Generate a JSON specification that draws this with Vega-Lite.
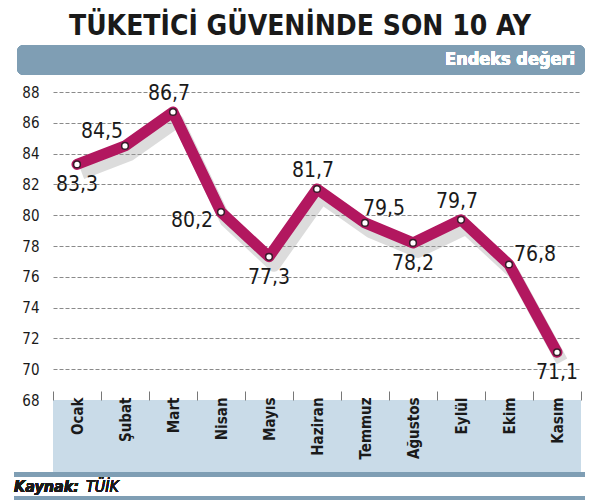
{
  "$schema": "https://vega.github.io/schema/vega-lite/v6.json",
  "width": 528,
  "height": 308,
  "autosize": "none",
  "padding": {"left": 53, "top": 92, "right": 10, "bottom": 104},
  "background": "white",
  "title": {
    "text": "TÜKETİCİ GÜVENİNDE SON 10 AY",
    "font": "Liberation Sans Narrow, DejaVu Sans Condensed, sans-serif",
    "fontSize": 28,
    "fontWeight": "bold",
    "color": "#1a1a1a",
    "anchor": "middle",
    "dx": -17,
    "offset": 4
  },
  "config": {
    "view": {"stroke": null},
    "font": "Liberation Sans Narrow, DejaVu Sans Condensed, sans-serif"
  },
  "data": {
    "values": [
      {"ay": "Ocak", "deger": 83.3, "etiket": "83,3"},
      {"ay": "Şubat", "deger": 84.5, "etiket": "84,5"},
      {"ay": "Mart", "deger": 86.7, "etiket": "86,7"},
      {"ay": "Nisan", "deger": 80.2, "etiket": "80,2"},
      {"ay": "Mayıs", "deger": 77.3, "etiket": "77,3"},
      {"ay": "Haziran", "deger": 81.7, "etiket": "81,7"},
      {"ay": "Temmuz", "deger": 79.5, "etiket": "79,5"},
      {"ay": "Ağustos", "deger": 78.2, "etiket": "78,2"},
      {"ay": "Eylül", "deger": 79.7, "etiket": "79,7"},
      {"ay": "Ekim", "deger": 76.8, "etiket": "76,8"},
      {"ay": "Kasım", "deger": 71.1, "etiket": "71,1"}
    ]
  },
  "encoding": {
    "x": {
      "field": "ay",
      "type": "nominal",
      "sort": null,
      "title": null,
      "scale": {"paddingInner": 0, "paddingOuter": 0},
      "axis": {
        "labelAngle": -90,
        "labelAlign": "right",
        "labelBaseline": "middle",
        "labelFontSize": 15,
        "labelFontWeight": "bold",
        "labelColor": "#1a1a1a",
        "labelPadding": 6,
        "domain": false,
        "tickBand": "extent",
        "tickSize": -9,
        "tickColor": "#777",
        "tickWidth": 1,
        "zindex": 2
      }
    },
    "y": {
      "field": "deger",
      "type": "quantitative",
      "title": null,
      "scale": {"domain": [68, 88], "nice": false, "zero": false},
      "axis": {
        "values": [68, 70, 72, 74, 76, 78, 80, 82, 84, 86, 88],
        "domain": false,
        "ticks": false,
        "labelFontSize": 15,
        "labelColor": "#1a1a1a",
        "labelPadding": 14,
        "gridDash": [4, 2],
        "gridColor": "#8a8a8a",
        "gridWidth": 1
      }
    }
  },
  "layer": [
    {
      "mark": {"type": "rect", "color": "#c9dbe8", "clip": false},
      "encoding": {
        "x": {"value": 0},
        "x2": {"value": "width"},
        "y": {"datum": 68},
        "y2": {"datum": 63.32}
      }
    },
    {
      "mark": {"type": "rect", "color": "#7f9eb4", "clip": false, "xOffset": -39, "x2Offset": 4},
      "encoding": {
        "x": {"value": 0},
        "x2": {"value": "width"},
        "y": {"datum": 63.29},
        "y2": {"datum": 63.02}
      }
    },
    {
      "mark": {"type": "rect", "color": "#7f9eb4", "clip": false, "xOffset": -39, "x2Offset": 4},
      "encoding": {
        "x": {"value": 0},
        "x2": {"value": "width"},
        "y": {"datum": 61.75},
        "y2": {"datum": 61.52}
      }
    },
    {
      "mark": {"type": "rect", "color": "#7f9eb4", "clip": false, "cornerRadius": 7, "xOffset": -36, "x2Offset": 4},
      "encoding": {
        "x": {"value": 0},
        "x2": {"value": "width"},
        "y": {"datum": 91.05},
        "y2": {"datum": 89.1}
      }
    },
    {
      "mark": {"type": "text", "text": "Endeks değeri", "color": "white", "fontSize": 18, "fontWeight": "bold", "align": "right", "baseline": "middle", "dx": -6},
      "encoding": {"x": {"value": "width"}, "y": {"datum": 90.05}}
    },
    {
      "mark": {"type": "text", "text": "Kaynak:", "color": "#1a1a1a", "fontSize": 16, "fontWeight": "bold", "fontStyle": "italic", "align": "left", "baseline": "middle", "dx": -39},
      "encoding": {"x": {"value": 0}, "y": {"datum": 62.37}}
    },
    {
      "mark": {"type": "text", "text": "TÜİK", "color": "#1a1a1a", "fontSize": 16, "fontStyle": "italic", "align": "left", "baseline": "middle", "dx": 33},
      "encoding": {"x": {"value": 0}, "y": {"datum": 62.37}}
    },
    {
      "mark": {"type": "line", "color": "#9a9a9a", "opacity": 0.35, "strokeWidth": 12, "strokeJoin": "round", "xOffset": 5, "yOffset": 9}
    },
    {
      "mark": {"type": "line", "color": "#b2175f", "strokeWidth": 11, "strokeJoin": "round", "strokeCap": "round"}
    },
    {
      "mark": {"type": "point", "filled": true, "fill": "white", "stroke": "#3a1a2a", "strokeWidth": 1.5, "size": 45, "opacity": 1}
    },
    {
      "transform": [{"filter": "indexof(['Mart', 'Haziran', 'Eylül'], datum.ay) >= 0"}],
      "mark": {"type": "text", "fontSize": 21, "color": "#1a1a1a", "baseline": "middle", "dx": -4, "dy": -18},
      "encoding": {"text": {"field": "etiket"}}
    },
    {
      "transform": [{"filter": "datum.ay == 'Şubat'"}],
      "mark": {"type": "text", "fontSize": 21, "color": "#1a1a1a", "baseline": "middle", "dx": -23, "dy": -14},
      "encoding": {"text": {"field": "etiket"}}
    },
    {
      "transform": [{"filter": "datum.ay == 'Temmuz'"}],
      "mark": {"type": "text", "fontSize": 21, "color": "#1a1a1a", "baseline": "middle", "dx": 19, "dy": -14},
      "encoding": {"text": {"field": "etiket"}}
    },
    {
      "transform": [{"filter": "datum.ay == 'Ekim'"}],
      "mark": {"type": "text", "fontSize": 21, "color": "#1a1a1a", "baseline": "middle", "dx": 26, "dy": -9},
      "encoding": {"text": {"field": "etiket"}}
    },
    {
      "transform": [{"filter": "indexof(['Ocak', 'Mayıs', 'Ağustos', 'Kasım'], datum.ay) >= 0"}],
      "mark": {"type": "text", "fontSize": 21, "color": "#1a1a1a", "baseline": "middle", "dy": 21},
      "encoding": {"text": {"field": "etiket"}}
    },
    {
      "transform": [{"filter": "datum.ay == 'Nisan'"}],
      "mark": {"type": "text", "fontSize": 21, "color": "#1a1a1a", "baseline": "middle", "dx": -29, "dy": 9},
      "encoding": {"text": {"field": "etiket"}}
    }
  ]
}
